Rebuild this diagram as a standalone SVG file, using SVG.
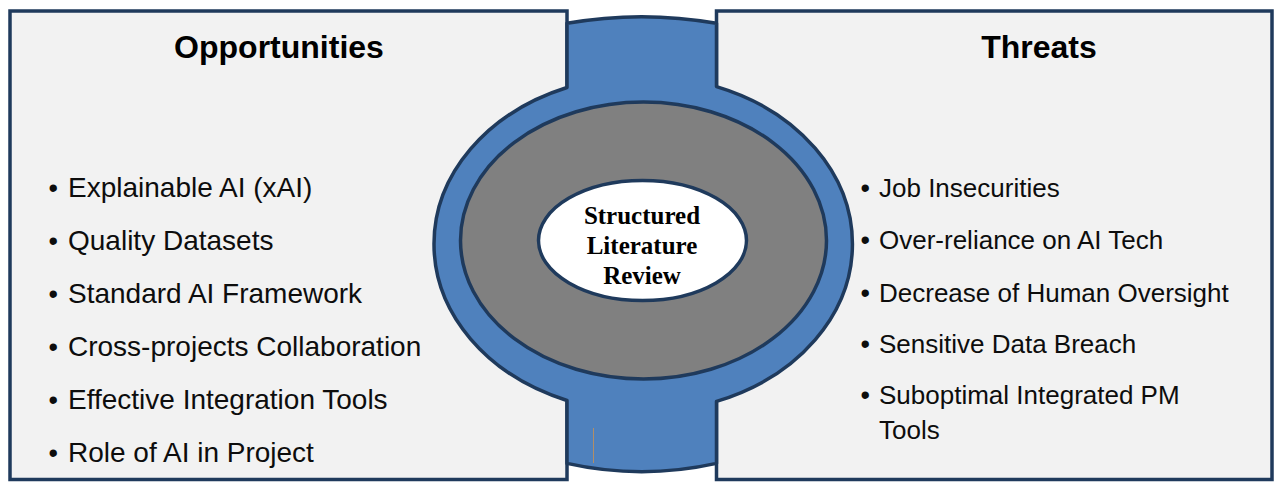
<svg xmlns="http://www.w3.org/2000/svg" width="1274" height="484" viewBox="0 0 1274 484">
<style>
.box{fill:#f2f2f2;stroke:#1f3a5c;stroke-width:3.5}
.ring{fill:#4f81bd;stroke:#1f3a5c;stroke-width:3.5;stroke-linejoin:round}
.gray{fill:#808080;stroke:#1f3a5c;stroke-width:3.5}
.core{fill:#ffffff;stroke:#1f3a5c;stroke-width:3.5}
.title{font-family:"Liberation Sans",Arial,sans-serif;font-weight:bold;font-size:32px;fill:#000;text-anchor:middle}
.item{font-family:"Liberation Sans",Arial,sans-serif;font-size:28px;fill:#0d0d0d}
.itemr{font-family:"Liberation Sans",Arial,sans-serif;font-size:26px;fill:#0d0d0d}
.dot{font-family:"Liberation Sans",Arial,sans-serif;font-size:27px;fill:#0d0d0d}
.center{font-family:"Liberation Serif","Times New Roman",serif;font-weight:bold;font-size:25px;fill:#000;text-anchor:middle}
</style>
<rect width="1274" height="484" fill="#ffffff"/>
<g id="opportunities">
<rect class="box" x="10" y="11" width="557" height="468.5"/>
<text class="title" x="279" y="58">Opportunities</text>
<text class="dot" x="48.5" y="197">•</text><text class="item" x="68" y="197">Explainable AI (xAI)</text>
<text class="dot" x="48.5" y="250">•</text><text class="item" x="68" y="250">Quality Datasets</text>
<text class="dot" x="48.5" y="303">•</text><text class="item" x="68" y="303">Standard AI Framework</text>
<text class="dot" x="48.5" y="356">•</text><text class="item" x="68" y="356">Cross-projects Collaboration</text>
<text class="dot" x="48.5" y="409">•</text><text class="item" x="68" y="409">Effective Integration Tools</text>
<text class="dot" x="48.5" y="462">•</text><text class="item" x="68" y="462">Role of AI in Project</text>
</g>
<g id="threats">
<rect class="box" x="716.5" y="11" width="555.5" height="468.5"/>
<text class="title" x="1039" y="58">Threats</text>
<text class="dot" x="860.5" y="197">•</text><text class="itemr" x="879" y="197">Job Insecurities</text>
<text class="dot" x="860.5" y="249">•</text><text class="itemr" x="879" y="249">Over-reliance on AI Tech</text>
<text class="dot" x="860.5" y="302">•</text><text class="itemr" x="879" y="302">Decrease of Human Oversight</text>
<text class="dot" x="860.5" y="353">•</text><text class="itemr" x="879" y="353">Sensitive Data Breach</text>
<text class="dot" x="860.5" y="404">•</text><text class="itemr" x="879" y="404">Suboptimal Integrated PM</text>
<text class="itemr" x="879" y="439">Tools</text>
</g>
<g id="connectors"></g>
<g id="ring">
<path class="ring" d="M 567 87.5 A 209 168 0 0 0 567 400.5 L 567 463.4 Q 641.5 480 716.5 463.4 L 716.5 401.4 A 209 168 0 0 0 716.5 86.6 L 716.5 23.3 Q 641.5 10 567 23.3 Z"/>
<line x1="593.5" y1="428" x2="593.5" y2="463" stroke="#b08e68" stroke-width="1"/>
</g>
<g id="literature">
<ellipse class="gray" cx="643.5" cy="240.5" rx="183" ry="138.5"/>
</g>
<g id="structured-literature-review">
<ellipse class="core" cx="642.5" cy="240.5" rx="104" ry="60"/>
<text class="center" x="642" y="224">Structured</text>
<text class="center" x="642" y="254">Literature</text>
<text class="center" x="642" y="284">Review</text>
</g>
</svg>
